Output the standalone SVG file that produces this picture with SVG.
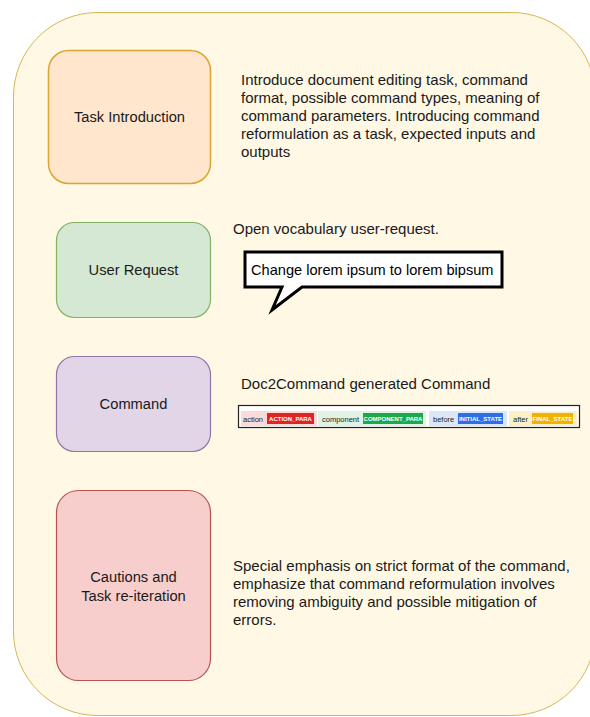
<svg xmlns="http://www.w3.org/2000/svg" width="590" height="717" viewBox="0 0 590 717">
<style>
text{font-family:"Liberation Sans",Arial,sans-serif;fill:#1a1a1a}
.lbl{font-size:14.7px;text-anchor:middle}
.desc{font-size:15px}
.tag{font-size:7.5px;fill:#222}
.chip{font-size:6px;font-weight:bold;fill:#fff;text-anchor:middle}
</style>
<g id="container">
<rect x="13.5" y="12.5" width="582" height="703" rx="84" ry="84" fill="#fef8e5" stroke="#d6b656" stroke-width="1"/>
</g>
<g id="task-introduction">
<rect x="48.5" y="50.5" width="162" height="133" rx="20" fill="#ffe6cc" stroke="#dba532" stroke-width="1.5"/>
<text class="lbl" x="129.5" y="122">Task Introduction</text>
</g>
<g id="task-introduction-desc">
<text class="desc" x="241" y="85">Introduce document editing task, command</text>
<text class="desc" x="241" y="103">format, possible command types, meaning of</text>
<text class="desc" x="241" y="121">command parameters. Introducing command</text>
<text class="desc" x="241" y="139">reformulation as a task, expected inputs and</text>
<text class="desc" x="241" y="157">outputs</text>
</g>
<g id="user-request">
<rect x="56.5" y="222.5" width="154" height="95" rx="18" fill="#d5e8d4" stroke="#82b366" stroke-width="1.2"/>
<text class="lbl" x="133.5" y="275">User Request</text>
</g>
<g id="user-request-desc">
<text class="desc" x="233" y="234">Open vocabulary user-request.</text>
<path d="M245,252 H502 V287 H302 L272,310 L282,287 H245 Z" fill="#ffffff" stroke="#000" stroke-width="3" stroke-linejoin="miter"/>
<text x="251" y="275" style="fill:#000;font-size:14.6px">Change lorem ipsum to lorem bipsum</text>
</g>
<g id="command">
<rect x="56.5" y="356.5" width="154" height="95" rx="18" fill="#e1d5e7" stroke="#9673a6" stroke-width="1.2"/>
<text class="lbl" x="133.5" y="409">Command</text>
</g>
<g id="command-desc">
<text class="desc" x="241" y="389">Doc2Command generated Command</text>
<rect x="238.5" y="405.5" width="341" height="22" fill="#ffffff" stroke="#222" stroke-width="1.2"/>
<rect x="241" y="411" width="76" height="15" fill="#fbdada"/>
<text class="tag" x="243" y="421.5">action</text>
<rect x="267" y="413" width="47" height="11" fill="#e02424"/>
<text class="chip" x="290.5" y="421">ACTION_PARA</text>
<rect x="318" y="411" width="108" height="15" fill="#dff3e4"/>
<text class="tag" x="322" y="421.5">component</text>
<rect x="363" y="413" width="60" height="11" fill="#1ea84c"/>
<text class="chip" x="393" y="421">COMPONENT_PARA</text>
<rect x="429" y="411" width="78" height="15" fill="#dbe7f8"/>
<text class="tag" x="433" y="421.5">before</text>
<rect x="458" y="413" width="45" height="11" fill="#2e6ee6"/>
<text class="chip" x="480.5" y="421">INITIAL_STATE</text>
<rect x="509" y="411" width="68" height="15" fill="#fcf1c6"/>
<text class="tag" x="513" y="421.5">after</text>
<rect x="532" y="413" width="41" height="11" fill="#efb300"/>
<text class="chip" x="552.5" y="421">FINAL_STATE</text>
</g>
<g id="cautions">
<rect x="56.5" y="490.5" width="154" height="190" rx="22" fill="#f8cecc" stroke="#b85450" stroke-width="1.2"/>
<text class="lbl" x="133.5" y="582">Cautions and</text>
<text class="lbl" x="133.5" y="601">Task re-iteration</text>
</g>
<g id="cautions-desc">
<text class="desc" x="233" y="571">Special emphasis on strict format of the command,</text>
<text class="desc" x="233" y="589">emphasize that command reformulation involves</text>
<text class="desc" x="233" y="607">removing ambiguity and possible mitigation of</text>
<text class="desc" x="233" y="625">errors.</text>
</g>
<g id="connectors"></g>
</svg>
